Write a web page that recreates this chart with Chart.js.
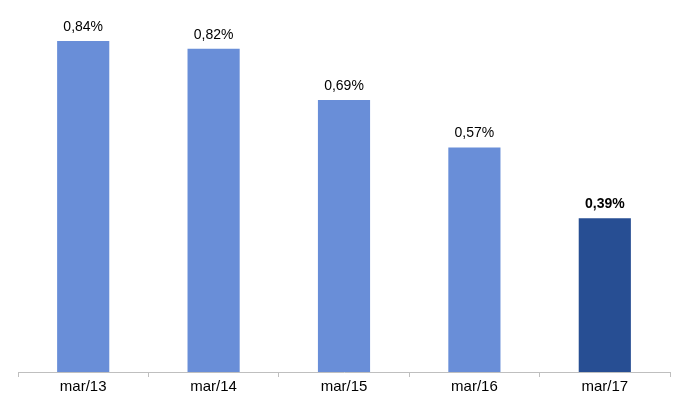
<!DOCTYPE html>
<html>
<head>
<meta charset="utf-8">
<script src="https://cdn.jsdelivr.net/npm/chart.js@4"></script>
<style>
  html, body { margin: 0; padding: 0; background: #fff; }
  #wrap { width: 688px; height: 413px; }
</style>
</head>
<body>
<div id="wrap"><canvas id="barChart"></canvas></div>
<script>
// datos del gráfico
const labels = ['mar/13', 'mar/14', 'mar/15', 'mar/16', 'mar/17'];
const values = [0.84, 0.82, 0.69, 0.57, 0.39];
const valueLabels = ['0,84%', '0,82%', '0,69%', '0,57%', '0,39%'];
const barColors = ['#698ed8', '#698ed8', '#698ed8', '#698ed8', '#274e93'];

// plugin simple para escribir el valor encima de cada barra
const valueLabelPlugin = {
    id: 'valueLabels',
    afterDatasetsDraw(chart) {
        const ctx = chart.ctx;
        const meta = chart.getDatasetMeta(0);
        ctx.save();
        ctx.textAlign = 'center';
        ctx.textBaseline = 'alphabetic';
        ctx.fillStyle = '#000';
        meta.data.forEach((bar, i) => {
            const last = i === meta.data.length - 1;
            ctx.font = (last ? 'bold ' : '') + '14px "Liberation Sans", Arial, sans-serif';
            ctx.fillText(valueLabels[i], bar.x, bar.y - 10);
        });
        ctx.restore();
    }
};

const ctx = document.getElementById('barChart').getContext('2d');
const barChartInstance = new Chart(ctx, {
    type: 'bar',
    data: {
        labels: labels,
        datasets: [{
            data: values,
            backgroundColor: barColors,
            borderWidth: 0,
            barPercentage: 0.4,
            categoryPercentage: 1
        }]
    },
    options: {
        responsive: true,
        maintainAspectRatio: false,
        animation: false,
        layout: { padding: { left: 18, right: 18, top: 0, bottom: 16 } },
        plugins: {
            legend: { display: false },
            tooltip: { enabled: false }
        },
        scales: {
            x: {
                grid: {
                    display: true,
                    drawOnChartArea: false,
                    drawTicks: true,
                    tickLength: 5,
                    color: '#bfbfbf'
                },
                border: { display: true, color: '#bfbfbf', width: 1 },
                ticks: {
                    color: '#000',
                    padding: 1,
                    font: { family: '"Liberation Sans", Arial, sans-serif', size: 15 }
                }
            },
            y: {
                display: false,
                min: 0,
                max: 0.944
            }
        }
    },
    plugins: [valueLabelPlugin]
});
</script>
</body>
</html>
